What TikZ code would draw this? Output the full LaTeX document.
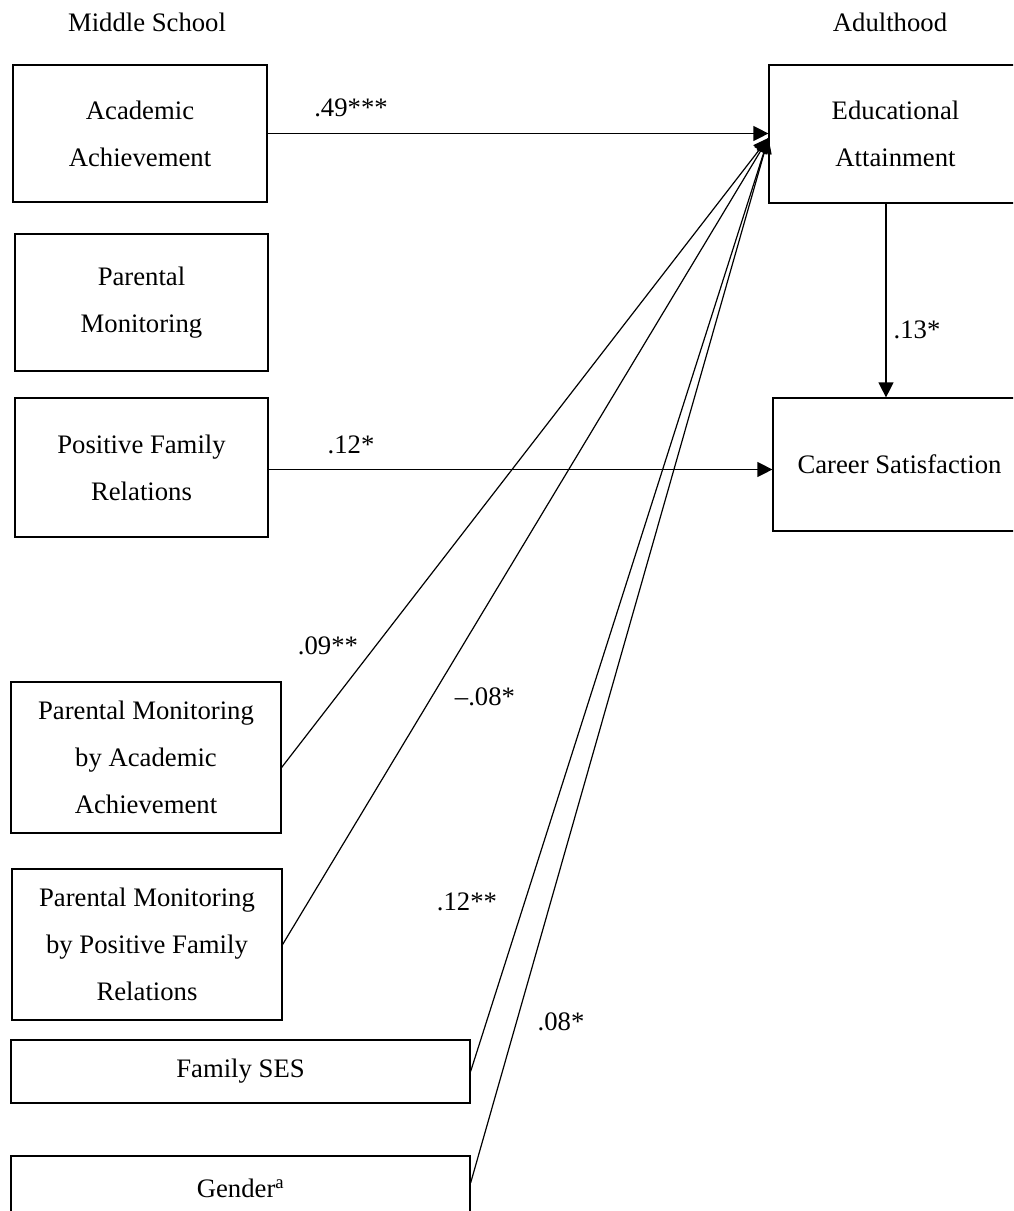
\documentclass[tikz,border=0pt]{standalone}
\usepackage{fontspec}
\setmainfont{Liberation Serif}
\usetikzlibrary{arrows.meta,positioning}
\tikzset{
  varbox/.style={draw, line width=1.2pt, inner sep=0pt, align=center,
    font=\fontsize{26.7}{47}\selectfont},
  coef/.style={font=\fontsize{26.7}{30}\selectfont},
  effect/.style={-{Triangle[length=15pt,width=15pt]}, line width=1.2pt},
}

\begin{document}
\begin{tikzpicture}[x=1pt,y=-1pt]
        \useasboundingbox (0,0) rectangle (1013,1211);
        \clip (0,0) rectangle (1013,1211);

        \node [coef] (ms) at (147,22) {Middle School};
        \node [coef] (adult) at (890,22) {Adulthood};

        \node [varbox, minimum width=254pt, minimum height=137pt] (aa) at (140,133.5) {Academic\\Achievement};
        \node [varbox, minimum width=253pt, minimum height=137pt] (pm) at (141.5,302.5) {Parental\\Monitoring};
        \node [varbox, minimum width=253pt, minimum height=139pt] (pfr) at (141.5,467.5) {Positive Family\\Relations};
        \node [varbox, minimum width=270pt, minimum height=151pt] (pmaa) at (146,757.5) {Parental Monitoring\\by Academic\\Achievement};
        \node [varbox, minimum width=270pt, minimum height=151pt] (pmpfr) at (147,944.5) {Parental Monitoring\\by Positive Family\\Relations};
        \node [varbox, minimum width=459pt, minimum height=63pt] (ses) at (240.5,1071.5) {Family SES};
        \node [varbox, minimum width=459pt, minimum height=64pt] (gen) at (240.5,1188) {Gender\textsuperscript{a}};

        \node [varbox, minimum width=253pt, minimum height=138pt] (edu) at (895.5,134) {Educational\\Attainment};
        \node [varbox, minimum width=253pt, minimum height=133pt] (car) at (899.5,464.5) {Career Satisfaction};

        \coordinate (hub) at ([yshift=-4pt]edu.west);

        \draw [effect] (aa.east) -- (aa.east -| edu.west);
        \draw [effect] ([yshift=-10pt]pmaa.east) -- (hub);
        \draw [effect] (pmpfr.east) -- (hub);
        \draw [effect] (ses.east) -- (hub);
        \draw [effect] ([yshift=5pt]gen.east) -- (hub);
        \draw [effect] ([yshift=-2pt]pfr.east) -- ([yshift=-2pt]pfr.east -| car.west);
        \draw [effect] ([xshift=-9.5pt]edu.south) -- ([xshift=-9.5pt]edu.south |- car.north);

        \node [coef] (c1) at (351,108) {.49***};
        \node [coef] (c2) at (351,445) {.12*};
        \node [coef] (c3) at (328,646) {.09**};
        \node [coef] (c4) at (485,697) {\textendash.08*};
        \node [coef] (c5) at (467,902) {.12**};
        \node [coef] (c6) at (561,1022) {.08*};
        \node [coef] (c7) at (917,330) {.13*};
      \end{tikzpicture}
\end{document}
